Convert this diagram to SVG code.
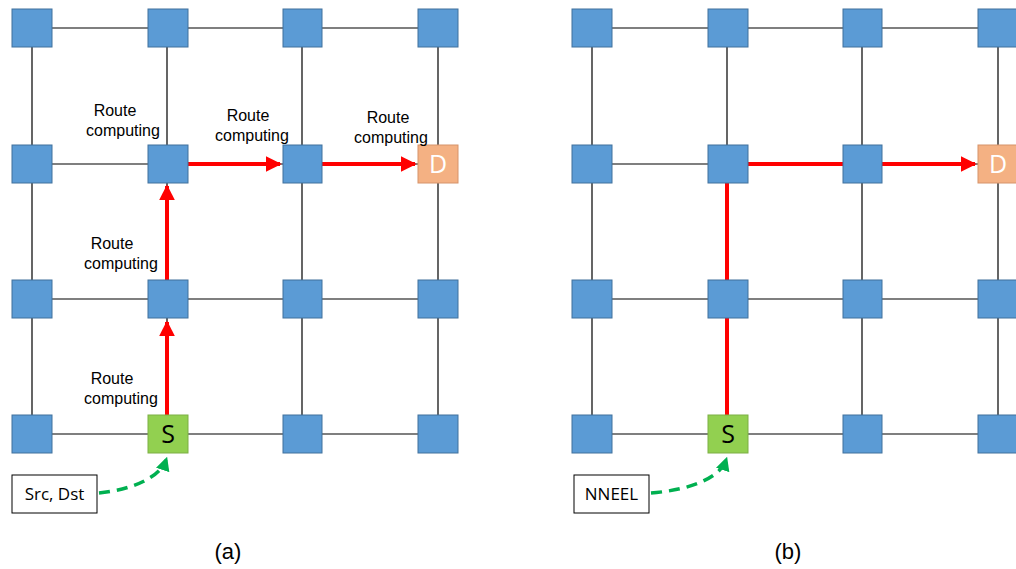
<svg xmlns="http://www.w3.org/2000/svg" width="1016" height="569" viewBox="0 0 1016 569">
<style>
.n{fill:#5B9BD5;stroke:#41719C;stroke-width:1}
.s{fill:#92D050;stroke:#7DAF45;stroke-width:1}
.d{fill:#F4B183;stroke:#D6936A;stroke-width:1}
.g{stroke:#000;stroke-width:1.2;fill:none}
.r{stroke:#FF0000;stroke-width:4;fill:none}
.gr{stroke:#00B050;stroke-width:3.5;fill:none;stroke-dasharray:11,7}
.lab{font-family:"Liberation Sans",Arial,sans-serif;font-size:16px;fill:#000;text-anchor:middle}
.big{font-family:"Open Sans","Noto Sans",sans-serif;font-size:25px;text-anchor:middle}
.box{fill:#fff;stroke:#000;stroke-width:1}
.bt{font-family:"Open Sans","Noto Sans",sans-serif;font-size:17px;text-anchor:middle;fill:#000}
.cap{font-family:"Liberation Sans",Arial,sans-serif;font-size:22px;text-anchor:middle;fill:#000}
</style>
<defs>
<marker id="ra" markerWidth="4" markerHeight="4" refX="3.6" refY="2" orient="auto" markerUnits="strokeWidth"><path d="M0,0 L4,2 L0,4 z" fill="#FF0000"/></marker>
<marker id="ga" markerWidth="4" markerHeight="4" refX="3" refY="2" orient="auto" markerUnits="strokeWidth"><path d="M0,0 L4,2 L0,4 z" fill="#00B050"/></marker>
</defs>
<rect width="1016" height="569" fill="#fff"/>
<g id="grid">
<g class="g">
<path d="M32,28 H438 M32,164 H438 M32,299 H438 M32,434 H438 M32,28 V434 M167,28 V434 M302,28 V434 M438,28 V434"/>
<path d="M592,28 H1016 M592,164 H1016 M592,299 H1016 M592,434 H1016 M592,28 V434 M727,28 V434 M862,28 V434 M998,28 V434"/>
</g>
</g>
<g id="connectors">
<path class="r" d="M167,415 V322" marker-end="url(#ra)"/>
<path class="r" d="M167,280 V186" marker-end="url(#ra)"/>
<path class="r" d="M187,164 H280" marker-end="url(#ra)"/>
<path class="r" d="M322,164 H415" marker-end="url(#ra)"/>
<path class="r" d="M727,415 V164 H862"/>
<path class="r" d="M882,164 H975" marker-end="url(#ra)"/>
<path class="gr" d="M99,493 C130,490 160,478 166,460" marker-end="url(#ga)"/>
<path class="gr" d="M651,493 C690,490 720,478 726,460" marker-end="url(#ga)"/>
</g>
<g id="nodes-a">
<rect class="n" x="12" y="9" width="40" height="38"/>
<rect class="n" x="148" y="9" width="40" height="38"/>
<rect class="n" x="283" y="9" width="39" height="38"/>
<rect class="n" x="418" y="9" width="40" height="38"/>
<rect class="n" x="12" y="145" width="40" height="38"/>
<rect class="n" x="148" y="145" width="40" height="38"/>
<rect class="n" x="283" y="145" width="39" height="38"/>
<g id="a-D"><rect class="d" x="418" y="145" width="40" height="38"/><text class="big" x="438" y="173" fill="#fff">D</text></g>
<rect class="n" x="12" y="280" width="40" height="38"/>
<rect class="n" x="148" y="280" width="40" height="38"/>
<rect class="n" x="283" y="280" width="39" height="38"/>
<rect class="n" x="418" y="280" width="40" height="38"/>
<rect class="n" x="12" y="415" width="40" height="38"/>
<g id="a-S"><rect class="s" x="148" y="415" width="40" height="38"/><text class="big" x="168" y="443" fill="#000">S</text></g>
<rect class="n" x="283" y="415" width="39" height="38"/>
<rect class="n" x="418" y="415" width="40" height="38"/>
</g>
<g id="nodes-b">
<rect class="n" x="572" y="9" width="40" height="38"/>
<rect class="n" x="708" y="9" width="40" height="38"/>
<rect class="n" x="843" y="9" width="39" height="38"/>
<rect class="n" x="978" y="9" width="40" height="38"/>
<rect class="n" x="572" y="145" width="40" height="38"/>
<rect class="n" x="708" y="145" width="40" height="38"/>
<rect class="n" x="843" y="145" width="39" height="38"/>
<g id="b-D"><rect class="d" x="978" y="145" width="40" height="38"/><text class="big" x="998" y="173" fill="#fff">D</text></g>
<rect class="n" x="572" y="280" width="40" height="38"/>
<rect class="n" x="708" y="280" width="40" height="38"/>
<rect class="n" x="843" y="280" width="39" height="38"/>
<rect class="n" x="978" y="280" width="40" height="38"/>
<rect class="n" x="572" y="415" width="40" height="38"/>
<g id="b-S"><rect class="s" x="708" y="415" width="40" height="38"/><text class="big" x="728" y="443" fill="#000">S</text></g>
<rect class="n" x="843" y="415" width="39" height="38"/>
<rect class="n" x="978" y="415" width="40" height="38"/>
</g>
<g id="labels">
<text class="lab" x="115" y="116">Route</text><text class="lab" x="123" y="136">computing</text>
<text class="lab" x="248" y="121">Route</text><text class="lab" x="252" y="141">computing</text>
<text class="lab" x="388" y="123">Route</text><text class="lab" x="391" y="143">computing</text>
<text class="lab" x="112" y="249">Route</text><text class="lab" x="121" y="269">computing</text>
<text class="lab" x="112" y="384">Route</text><text class="lab" x="121" y="404">computing</text>
</g>
<g id="src-box"><rect class="box" x="12" y="475" width="85" height="38"/><text class="bt" x="54.5" y="500">Src, Dst</text></g>
<g id="nneel-box"><rect class="box" x="574" y="475" width="75" height="38"/><text class="bt" x="611.5" y="500">NNEEL</text></g>
<text class="cap" x="228" y="559">(a)</text>
<text class="cap" x="788" y="559">(b)</text>
</svg>
